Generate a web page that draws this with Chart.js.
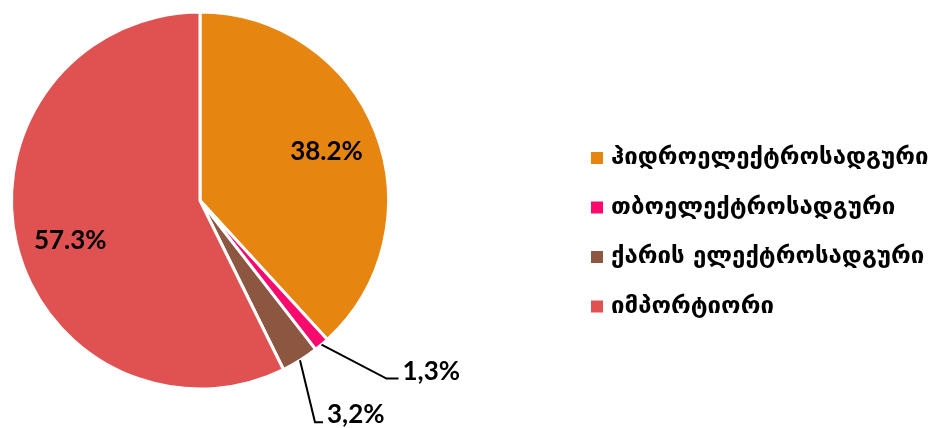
<!DOCTYPE html>
<html>
<head>
<meta charset="utf-8">
<script src="https://cdn.jsdelivr.net/npm/chart.js@4"></script>
<style>
  html, body { margin: 0; padding: 0; background: #fff; }
  #wrap { width: 938px; height: 428px; }
</style>
</head>
<body>
<div id="wrap"><canvas id="energyPie"></canvas></div>
<script>
const categories = [
  "ჰიდროელექტროსადგური",
  "თბოელექტროსადგური",
  "ქარის ელექტროსადგური",
  "იმპორტიორი",
];
const shares = [38.2, 1.3, 3.2, 57.3];
const shareLabels = ["38.2%", "1,3%", "3,2%", "57.3%"];
const sliceColors = ["#E6850F", "#FA0A6C", "#8C5640", "#E05252"];

// small slices get a label outside with a leader line
const leaders = [null, { dx: 65, dy: 34, run: 12 }, { dx: 15, dy: 62, run: 8 }, null];
// angle nudge (degrees) for labels inside the big slices
const labelTurn = [0, 0, 0, -4];

const labelPlugin = {
  id: "sliceLabels",
  afterDatasetsDraw(chart) {
    const ctx = chart.ctx;
    const arcs = chart.getDatasetMeta(0).data;
    ctx.save();
    ctx.font = "bold 26px Lato";
    ctx.fillStyle = "#000";
    arcs.forEach((arc, i) => {
      const lead = leaders[i];
      const mid = (arc.startAngle + arc.endAngle) / 2;
      const r = arc.outerRadius;
      if (!lead) {
        const a = mid + (labelTurn[i] * Math.PI) / 180;
        ctx.textAlign = "center";
        ctx.textBaseline = "middle";
        ctx.fillText(shareLabels[i], arc.x + Math.cos(a) * r * 0.72, arc.y + Math.sin(a) * r * 0.72);
        return;
      }
      const sx = arc.x + Math.cos(mid) * r;
      const sy = arc.y + Math.sin(mid) * r;
      const ex = sx + lead.dx;
      const ey = sy + lead.dy;
      ctx.strokeStyle = "#000";
      ctx.lineWidth = 2;
      ctx.beginPath();
      ctx.moveTo(sx, sy);
      ctx.lineTo(ex, ey);
      ctx.lineTo(ex + lead.run, ey);
      ctx.stroke();
      ctx.textAlign = "left";
      ctx.textBaseline = "alphabetic";
      ctx.fillText(shareLabels[i], ex + lead.run + 4, ey + 1);
    });
    ctx.restore();
  },
};

const legendPlugin = {
  id: "sideLegend",
  afterDraw(chart) {
    const ctx = chart.ctx;
    const x0 = 591;
    const y0 = 158;
    const step = 49.5;
    ctx.save();
    ctx.font = "bold 24px 'DejaVu Sans'";
    ctx.textAlign = "left";
    ctx.textBaseline = "middle";
    categories.forEach((name, i) => {
      const y = y0 + i * step;
      ctx.fillStyle = sliceColors[i];
      ctx.fillRect(x0, y - 6, 12, 12);
      ctx.fillStyle = "#000";
      ctx.fillText(name, x0 + 20, y);
    });
    ctx.restore();
  },
};

new Chart(document.getElementById("energyPie"), {
  type: "pie",
  data: {
    labels: categories,
    datasets: [
      {
        data: shares,
        backgroundColor: sliceColors,
        borderColor: "#ffffff",
        borderWidth: 3,
      },
    ],
  },
  options: {
    responsive: true,
    maintainAspectRatio: false,
    animation: false,
    layout: { padding: { left: 10, top: 10, bottom: 37, right: 548 } },
    plugins: {
      legend: { display: false },
      tooltip: { enabled: false },
    },
  },
  plugins: [labelPlugin, legendPlugin],
});
</script>
</body>
</html>
